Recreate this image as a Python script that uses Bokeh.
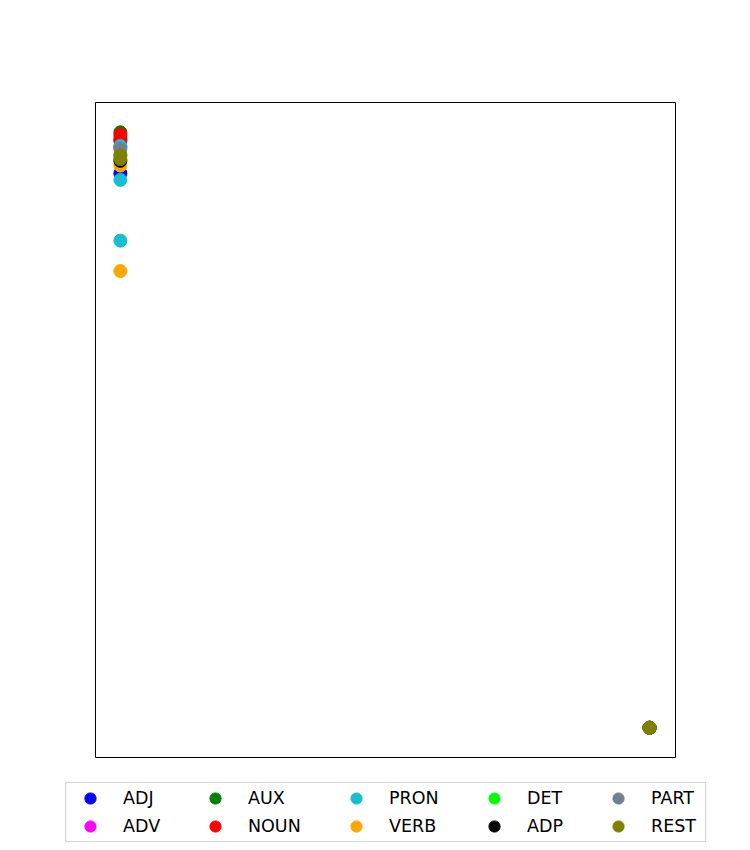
from bokeh.plotting import figure
from bokeh.layouts import column
from bokeh.models import Range1d, Legend, LegendItem, ColumnDataSource
from bokeh.embed import file_html
from bokeh.resources import INLINE

categories = ["ADJ", "ADV", "AUX", "NOUN", "PRON", "VERB", "DET", "ADP", "PART", "REST"]
colors = ["#0000ff", "#ff00ff", "#008000", "#ff0000", "#17becf",
          "#ffa500", "#00ff00", "#000000", "#708090", "#808000"]

x_vals = {
    "ADJ": [0, 0, 1],
    "ADV": [0, 1],
    "AUX": [0, 1],
    "NOUN": [0, 0, 1],
    "PRON": [0, 0, 0, 1],
    "VERB": [0, 0, 1],
    "DET": [0, 1],
    "ADP": [0, 1],
    "PART": [0, 1],
    "REST": [0, 0, 1],
}
y_vals = {
    "ADJ": [0.986, 0.931, 0.0],
    "ADV": [0.975, 0.0],
    "AUX": [1.0, 0.0],
    "NOUN": [0.996, 0.989, 0.0],
    "PRON": [0.977, 0.920, 0.818, 0.0],
    "VERB": [0.944, 0.767, 0.0],
    "DET": [0.962, 0.0],
    "ADP": [0.952, 0.0],
    "PART": [0.972, 0.0],
    "REST": [0.961, 0.955, 0.0],
}

# main scatter plot
p = figure(width=750, height=782, output_backend="svg", toolbar_location=None,
           x_range=Range1d(-0.047, 1.049), y_range=Range1d(-0.05, 1.05),
           min_border_left=95, min_border_right=75, min_border_top=102,
           min_border_bottom=25, frame_align=False)
p.axis.visible = False
p.grid.visible = False
p.outline_line_color = "black"
p.outline_line_width = 1
p.background_fill_color = "white"
p.border_fill_color = "white"

for cat, col in zip(categories, colors):
    src = ColumnDataSource(dict(x=x_vals[cat], y=y_vals[cat]))
    p.scatter("x", "y", source=src, size=13, fill_color=col, line_color=col)

# legend strip: its frame acts as the legend box; the same series are
# drawn there too but fall outside its ranges, so only the legend shows
lf = figure(width=750, height=68, output_backend="svg", toolbar_location=None,
            x_range=Range1d(10, 11), y_range=Range1d(10, 11),
            min_border_left=65, min_border_right=45, min_border_top=0,
            min_border_bottom=9, frame_align=False)
lf.axis.visible = False
lf.grid.visible = False
lf.outline_line_color = "#d6d6d6"
lf.outline_line_width = 1.2
lf.background_fill_color = "white"
lf.border_fill_color = "white"

legend_renderers = {}
for cat, col in zip(categories, colors):
    src = ColumnDataSource(dict(x=x_vals[cat], y=y_vals[cat]))
    legend_renderers[cat] = lf.scatter("x", "y", source=src, size=13,
                                       fill_color=col, line_color=col)

col_offsets = [11, 136, 277, 415, 539]
for k, xoff in enumerate(col_offsets):
    cats = categories[2 * k:2 * k + 2]
    leg = Legend(items=[LegendItem(label=c, renderers=[legend_renderers[c]]) for c in cats],
                 location=(xoff, 1), orientation="vertical",
                 label_text_font="DejaVu Sans", label_text_font_size="17.5px",
                 label_text_color="black",
                 glyph_width=28, glyph_height=28, label_height=28,
                 label_standoff=19, spacing=0, padding=0, margin=0,
                 border_line_alpha=0, background_fill_alpha=0)
    lf.add_layout(leg)

layout = column(p, lf, spacing=0)
open("out.html", "w").write(file_html(layout, INLINE))
